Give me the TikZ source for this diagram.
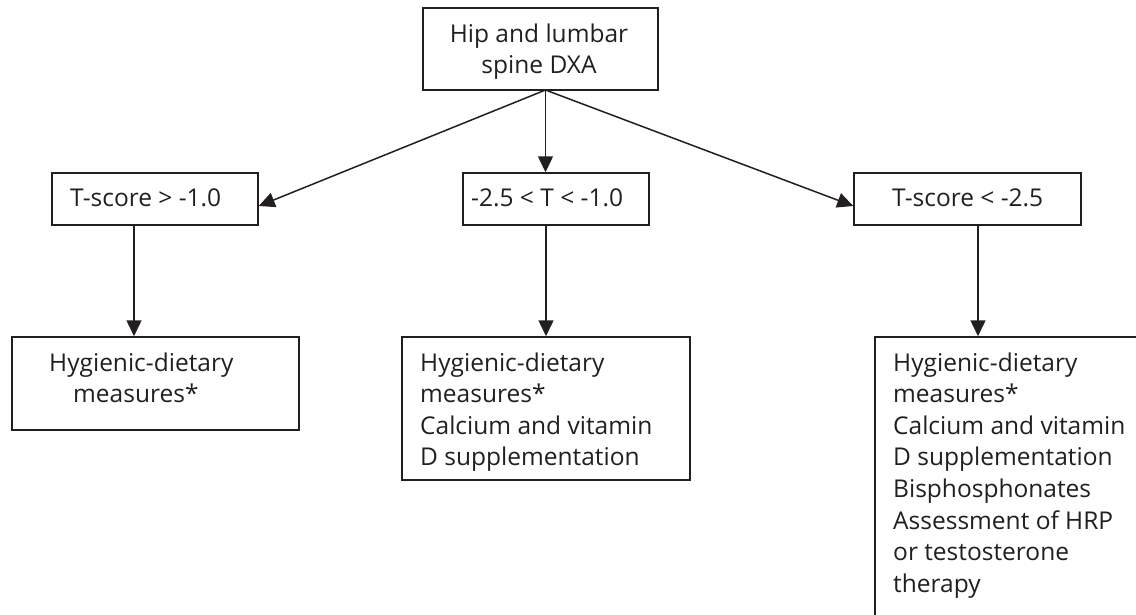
\documentclass[tikz,border=0pt]{standalone}
\usepackage{fontspec}
\setmainfont{Open Sans}
\usetikzlibrary{arrows.meta}
\definecolor{ink}{HTML}{231F20}
\tikzset{
  boxnode/.style={draw=ink, line width=1.5pt, inner sep=0pt, rectangle},
  txt/.style={inner sep=0pt, text=ink, font=\fontsize{24.5}{31.6}\selectfont},
  conn/.style={draw=ink, line width=1.5pt, -{Triangle[length=16pt,width=15pt]}}
}
\begin{document}
\begin{tikzpicture}[x=1pt,y=-1pt]
\useasboundingbox (0,0) rectangle (1136,614);
\begin{scope}
\clip (0,0) rectangle (1136,614);
% boxes
\node[boxnode, minimum width=235pt, minimum height=82pt] (top) at (540.5,49) {};
\node[boxnode, minimum width=206pt, minimum height=52pt] (t1) at (155,199) {};
\node[boxnode, minimum width=186pt, minimum height=52pt] (t2) at (556,199) {};
\node[boxnode, minimum width=227pt, minimum height=52pt] (t3) at (967.5,199) {};
\node[boxnode, minimum width=287pt, minimum height=93pt] (b1) at (155.5,383.5) {};
\node[boxnode, minimum width=288pt, minimum height=143pt] (b2) at (546,408.5) {};
\node[boxnode, minimum width=400pt, minimum height=400pt] (b3) at (1075,537) {};
% texts (base anchor = baseline of the last line)
\node[txt, align=center, anchor=base] (top-t) at (539,73.6) {Hip and lumbar\\spine DXA};
\node[txt, anchor=base west] (t1-t) at (70,206) {T-score > -1.0};
\node[txt, anchor=base west] (t2-t) at (471,206) {-2.5 < T < -1.0};
\node[txt, anchor=base west] (t3-t) at (892,206) {T-score < -2.5};
\node[txt, align=left, anchor=base west] (b1-t) at (49,402.6) {Hygienic-dietary\\\hspace*{24pt}measures*};
\node[txt, align=left, anchor=base west] (b2-t) at (420,465.8) {Hygienic-dietary\\measures*\\Calcium and vitamin\\D supplementation};
\node[txt, align=left, anchor=base west] (b3-t) at (893,592.2) {Hygienic-dietary\\measures*\\Calcium and vitamin\\D supplementation\\Bisphosphonates\\Assessment of HRP\\or testosterone\\therapy};
% connectors
\coordinate (apex) at (545.5,90);
\draw[conn] (apex) -- ([yshift=-7pt]t1.east);
\draw[conn] (apex) -- (apex |- t2.north);
\draw[conn] (apex) -- ([yshift=-7pt]t3.west);
\draw[conn] ([xshift=-21pt]t1.south) -- ([xshift=-21pt]t1.south |- b1.north);
\draw[conn] ([xshift=-10pt]t2.south) -- ([xshift=-10pt]t2.south |- b2.north);
\draw[conn] ([xshift=10.5pt]t3.south) -- ([xshift=10.5pt]t3.south |- b3.north);
\end{scope}
\end{tikzpicture}
\end{document}
